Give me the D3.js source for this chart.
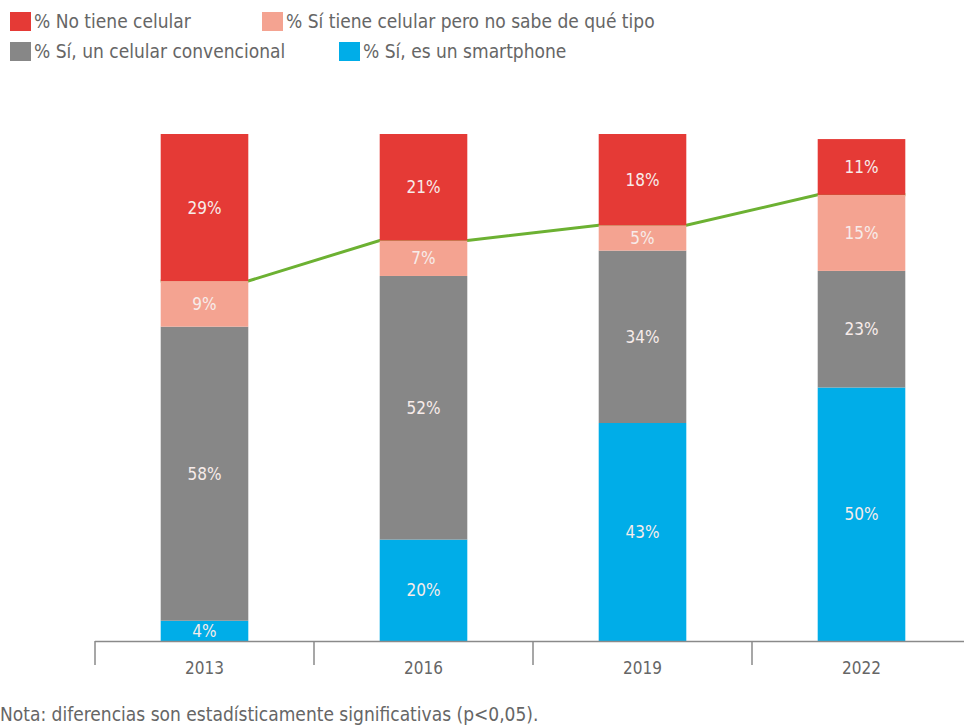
<!DOCTYPE html>
<html>
<head>
<meta charset="utf-8">
<script src="https://cdn.jsdelivr.net/npm/d3@7"></script>
<style>
  body { margin: 0; background: #fff; }
  svg text { font-family: "Liberation Sans Narrow", "DejaVu Sans Condensed", "Open Sans", sans-serif; }
</style>
</head>
<body>
<div id="chart"></div>
<script>
// years on the x axis
var years = ["2013", "2016", "2019", "2022"];
// stacked series, bottom to top
var smartphone = [4, 20, 43, 50];
var convencional = [58, 52, 34, 23];
var noSabe = [9, 7, 5, 15];
var noTiene = [29, 21, 18, 11];

var seriesNames = ["% Sí, es un smartphone", "% Sí, un celular convencional", "% Sí tiene celular pero no sabe de qué tipo", "% No tiene celular"];
var seriesColors = ["#00ade8", "#878787", "#f4a391", "#e53a36"];

var W = 964, H = 726;
var svg = d3.select("#chart").append("svg")
  .attr("width", W)
  .attr("height", H);

var rows = years.map(function(y, i) {
  return { year: y, s0: smartphone[i], s1: convencional[i], s2: noSabe[i], s3: noTiene[i] };
});
var keys = ["s0", "s1", "s2", "s3"];
var stack = d3.stack().keys(keys)(rows);

var x = d3.scaleBand()
  .domain(years)
  .range([95, 971])
  .paddingInner(0.6)
  .paddingOuter(0.3);

var y = d3.scaleLinear()
  .domain([0, 100])
  .range([641, 134]);

// green line along top of "no sabe" segment, bar edge to bar edge
var linePts = [];
rows.forEach(function(r) {
  var top = y(r.s0 + r.s1 + r.s2);
  linePts.push([x(r.year), top]);
  linePts.push([x(r.year) + x.bandwidth(), top]);
});
svg.append("path")
  .attr("d", d3.line()(linePts))
  .attr("fill", "none")
  .attr("stroke", "#6cb132")
  .attr("stroke-width", 3);

var layers = svg.selectAll(".layer")
  .data(stack)
  .enter()
  .append("g")
  .attr("class", "layer")
  .attr("fill", function(d, i) { return seriesColors[i]; });

layers.selectAll("rect")
  .data(function(d) { return d; })
  .enter()
  .append("rect")
  .attr("x", function(d) { return x(d.data.year); })
  .attr("y", function(d) { return y(d[1]); })
  .attr("width", x.bandwidth())
  .attr("height", function(d) { return y(d[0]) - y(d[1]); });

layers.selectAll("text")
  .data(function(d) { return d; })
  .enter()
  .append("text")
  .attr("x", function(d) { return x(d.data.year) + x.bandwidth() / 2; })
  .attr("y", function(d) { return (y(d[0]) + y(d[1])) / 2; })
  .attr("dy", "0.36em")
  .attr("text-anchor", "middle")
  .attr("fill", "#f7ecea")
  .attr("font-size", "17px")
  .text(function(d) { return (d[1] - d[0]) + "%"; });

// x axis with ticks between categories
var axis = svg.append("g");
axis.append("line")
  .attr("x1", 95).attr("x2", W)
  .attr("y1", 641.5).attr("y2", 641.5)
  .attr("stroke", "#8a8a8a")
  .attr("stroke-width", 1.5);
axis.selectAll(".tick")
  .data(years)
  .enter()
  .append("line")
  .attr("x1", function(d) { return x(d) - x.step() * x.paddingOuter(); })
  .attr("x2", function(d) { return x(d) - x.step() * x.paddingOuter(); })
  .attr("y1", 641)
  .attr("y2", 665)
  .attr("stroke", "#8a8a8a")
  .attr("stroke-width", 1.5);
axis.selectAll(".lbl")
  .data(years)
  .enter()
  .append("text")
  .attr("x", function(d) { return x(d) + x.bandwidth() / 2; })
  .attr("y", 674)
  .attr("text-anchor", "middle")
  .attr("fill", "#666")
  .attr("font-size", "17px")
  .text(function(d) { return d; });

// legend
var legendItems = [
  { name: seriesNames[3], color: seriesColors[3], x: 10, y: 12 },
  { name: seriesNames[2], color: seriesColors[2], x: 262, y: 12 },
  { name: seriesNames[1], color: seriesColors[1], x: 10, y: 42 },
  { name: seriesNames[0], color: seriesColors[0], x: 339, y: 42 }
];
var leg = svg.selectAll(".leg")
  .data(legendItems)
  .enter()
  .append("g")
  .attr("transform", function(d) { return "translate(" + d.x + "," + d.y + ")"; });
leg.append("rect")
  .attr("width", 21)
  .attr("height", 19)
  .attr("fill", function(d) { return d.color; });
leg.append("text")
  .attr("x", 24)
  .attr("y", 16)
  .attr("fill", "#666")
  .attr("font-size", "19px")
  .text(function(d) { return d.name; });

svg.append("text")
  .attr("x", 0)
  .attr("y", 721)
  .attr("fill", "#666")
  .attr("font-size", "19px")
  .text("Nota: diferencias son estadísticamente significativas (p<0,05).");
</script>
</body>
</html>
